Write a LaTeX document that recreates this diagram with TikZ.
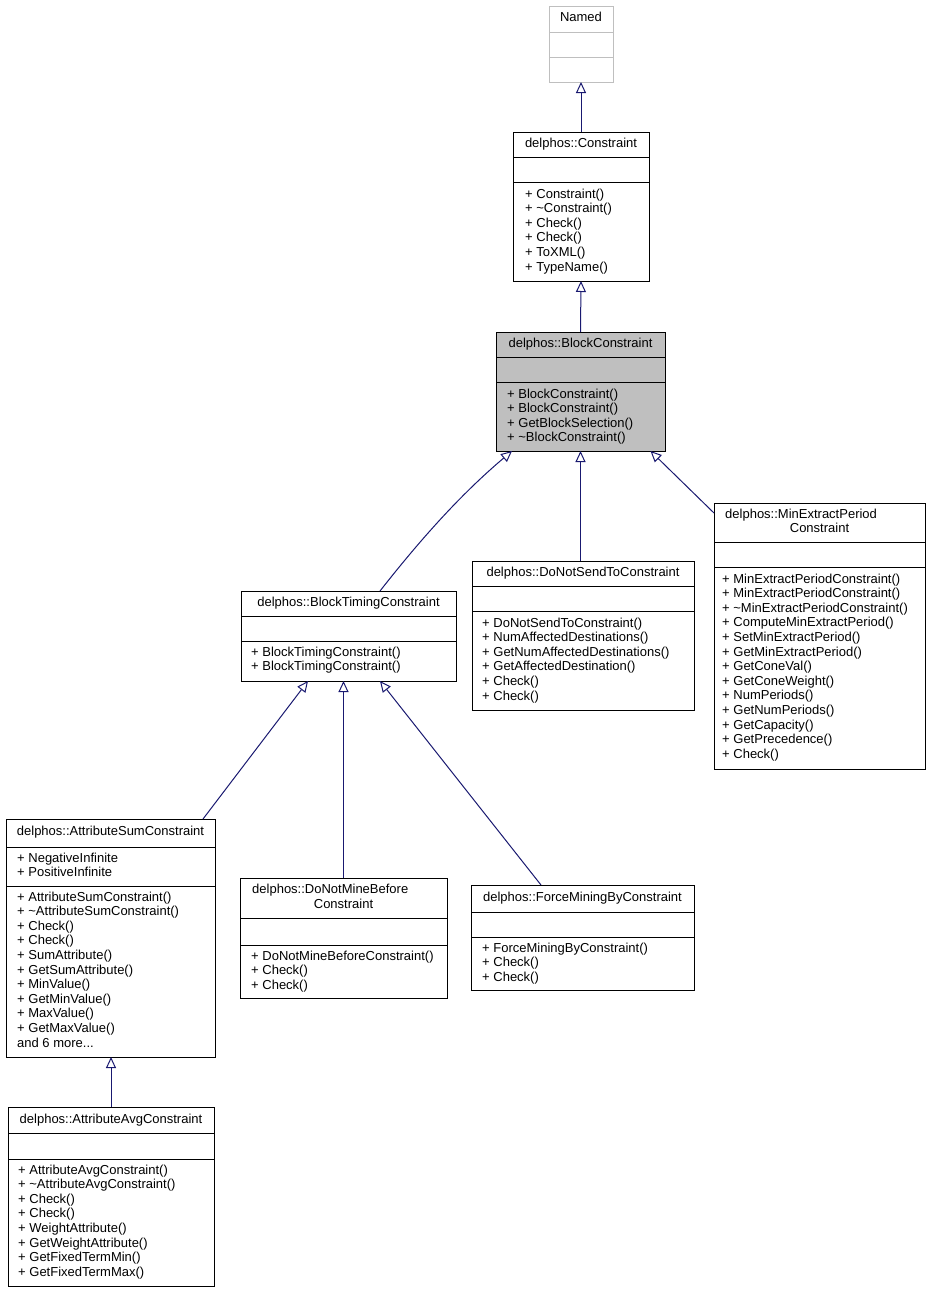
\documentclass[tikz,border=0pt]{standalone}
\usepackage{fontspec}
\setmainfont{Liberation Sans}
\usetikzlibrary{arrows.meta,calc}
\definecolor{navy}{HTML}{191970}
\definecolor{greyb}{HTML}{BFBFBF}
\tikzset{
 box/.style={draw=black, line width=1pt, inner sep=0pt, outer sep=0pt, anchor=north west},
 txt/.style={inner sep=0pt, anchor=base west, font=\fontsize{13}{14.6}\selectfont},
 ttl/.style={inner sep=0pt, anchor=base, font=\fontsize{13}{14.6}\selectfont},
 sep/.style={draw=black, line width=1pt},
 inh/.style={draw=navy, line width=1pt, -{Triangle[open, length=11pt, width=10pt, fill=white]}},
}
\newcommand\mydots{...}
\newcommand\mlines[4]{\foreach \t [count=\i from 0] in {#4}{\node[txt] (#1-\i) at (#2,{#3+\i*14.6}) {\t};}}
\begin{document}
\begin{tikzpicture}[x=1pt,y=-1pt]
\useasboundingbox (0,0) rectangle (931,1293);
% Named
\node[box, draw=greyb, minimum width=64pt, minimum height=76pt] (named) at (549,6) {};
\draw[sep, draw=greyb] (549,32) -- (613,32) (549,57) -- (613,57);
\node[ttl] (named-t) at (581,21) {Named};
% Constraint
\node[box, minimum width=136pt, minimum height=149pt] (con) at (513,132) {};
\draw[sep] (513,157) -- (649,157) (513,182) -- (649,182);
\node[ttl] (con-t) at (581,147) {delphos::Constraint};
\mlines{con}{525}{198}{+ Constraint(),+ \textasciitilde Constraint(),+ Check(),+ Check(),+ ToXML(),+ TypeName()}
% BlockConstraint
\node[box, fill=greyb, minimum width=169pt, minimum height=119pt] (bc) at (496,332) {};
\draw[sep] (496,357) -- (665,357) (496,382) -- (665,382);
\node[ttl] (bc-t) at (580.5,347) {delphos::BlockConstraint};
\mlines{bc}{507}{398}{+ BlockConstraint(),+ BlockConstraint(),+ GetBlockSelection(),+ \textasciitilde BlockConstraint()}
% BlockTimingConstraint
\node[box, minimum width=215pt, minimum height=90pt] (btc) at (241,591) {};
\draw[sep] (241,616) -- (456,616) (241,641) -- (456,641);
\node[ttl] (btc-t) at (348.5,606) {delphos::BlockTimingConstraint};
\mlines{btc}{251}{656}{+ BlockTimingConstraint(),+ BlockTimingConstraint()}
% DoNotSendToConstraint
\node[box, minimum width=222pt, minimum height=149pt] (dnst) at (472,561) {};
\draw[sep] (472,586) -- (694,586) (472,611) -- (694,611);
\node[ttl] (dnst-t) at (583,576) {delphos::DoNotSendToConstraint};
\mlines{dnst}{482}{627}{+ DoNotSendToConstraint(),+ NumAffectedDestinations(),+ GetNumAffectedDestinations(),+ GetAffectedDestination(),+ Check(),+ Check()}
% MinExtractPeriodConstraint
\node[box, minimum width=211pt, minimum height=266pt] (mep) at (714,503) {};
\draw[sep] (714,542) -- (925,542) (714,567) -- (925,567);
\node[txt] (mep-t1) at (725,518) {delphos::MinExtractPeriod};
\node[ttl] (mep-t2) at (819.5,532.6) {Constraint};
\mlines{mep}{722}{583}{+ MinExtractPeriodConstraint(),+ MinExtractPeriodConstraint(),+ \textasciitilde MinExtractPeriodConstraint(),+ ComputeMinExtractPeriod(),+ SetMinExtractPeriod(),+ GetMinExtractPeriod(),+ GetConeVal(),+ GetConeWeight(),+ NumPeriods(),+ GetNumPeriods(),+ GetCapacity(),+ GetPrecedence(),+ Check()}
% AttributeSumConstraint
\node[box, minimum width=209pt, minimum height=238pt] (asc) at (6,819) {};
\draw[sep] (6,847) -- (215,847) (6,886) -- (215,886);
\node[ttl] (asc-t) at (110.5,835) {delphos::AttributeSumConstraint};
\mlines{asca}{17}{862}{+ NegativeInfinite,+ PositiveInfinite}
\mlines{asc}{17}{901}{+ AttributeSumConstraint(),+ \textasciitilde AttributeSumConstraint(),+ Check(),+ Check(),+ SumAttribute(),+ GetSumAttribute(),+ MinValue(),+ GetMinValue(),+ MaxValue(),+ GetMaxValue(),and 6 more\mydots}
% AttributeAvgConstraint
\node[box, minimum width=206pt, minimum height=179pt] (aac) at (8,1107) {};
\draw[sep] (8,1133) -- (214,1133) (8,1159) -- (214,1159);
\node[ttl] (aac-t) at (111,1123) {delphos::AttributeAvgConstraint};
\mlines{aac}{18}{1174}{+ AttributeAvgConstraint(),+ \textasciitilde AttributeAvgConstraint(),+ Check(),+ Check(),+ WeightAttribute(),+ GetWeightAttribute(),+ GetFixedTermMin(),+ GetFixedTermMax()}
% DoNotMineBeforeConstraint
\node[box, minimum width=207pt, minimum height=120pt] (dnmb) at (240,878) {};
\draw[sep] (240,918) -- (447,918) (240,945) -- (447,945);
\node[txt] (dnmb-t1) at (252,893.5) {delphos::DoNotMineBefore};
\node[ttl] (dnmb-t2) at (343.5,908) {Constraint};
\mlines{dnmb}{251}{960}{+ DoNotMineBeforeConstraint(),+ Check(),+ Check()}
% ForceMiningByConstraint
\node[box, minimum width=223pt, minimum height=105pt] (fmb) at (471,885) {};
\draw[sep] (471,912) -- (694,912) (471,937) -- (694,937);
\node[ttl] (fmb-t) at (582.5,901) {delphos::ForceMiningByConstraint};
\mlines{fmb}{482}{952}{+ ForceMiningByConstraint(),+ Check(),+ Check()}
% inheritance edges
\draw[inh] (con.north) -- (named.south);
\draw[inh] (bc.north) -- (con.south);
\draw[inh] ([xshift=31.5pt]btc.north) .. controls (420,540) and (460,495) .. ([xshift=-68.5pt]bc.south);
\draw[inh] (bc.south |- dnst.north) -- (bc.south);
\draw[inh] ([yshift=-10pt]mep.north west) -- ([xshift=70pt]bc.south);
\draw[inh] ([xshift=92.5pt]asc.north) -- ([xshift=-40.5pt]btc.south);
\draw[inh] (dnmb.north) -- (dnmb.north |- btc.south);
\draw[inh] ([xshift=-41.5pt]fmb.north) -- ([xshift=31.5pt]btc.south);
\draw[inh] (aac.north) -- (aac.north |- asc.south);
\end{tikzpicture}
\end{document}
